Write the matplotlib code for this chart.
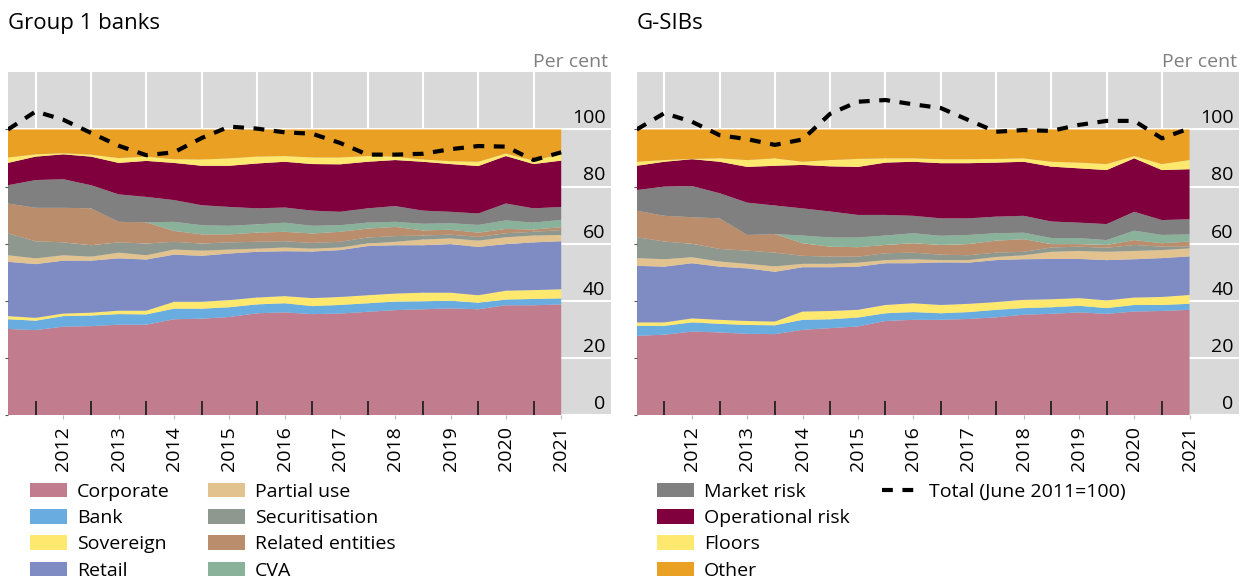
import numpy as np
import matplotlib
matplotlib.use("Agg")
import matplotlib.pyplot as plt
from matplotlib.patches import Patch
from matplotlib.lines import Line2D

plt.rcParams["font.family"] = ["Open Sans", "DejaVu Sans"]

# half-yearly observations, June 2011 ... June 2021
periods = ["Jun 2011", "Dec 2011", "Jun 2012", "Dec 2012", "Jun 2013", "Dec 2013",
           "Jun 2014", "Dec 2014", "Jun 2015", "Dec 2015", "Jun 2016", "Dec 2016",
           "Jun 2017", "Dec 2017", "Jun 2018", "Dec 2018", "Jun 2019", "Dec 2019",
           "Jun 2020", "Dec 2020", "Jun 2021"]
year_labels = ["2012", "2013", "2014", "2015", "2016", "2017", "2018", "2019", "2020", "2021"]

categories = ["Corporate", "Bank", "Sovereign", "Retail", "Partial use", "Securitisation",
              "Related entities", "CVA", "Market risk", "Operational risk", "Floors", "Other"]
colors = ["#C17D8D", "#68ACE0", "#FFE86E", "#7F8CC4", "#E2C28F", "#8F988F",
          "#BA8E6C", "#8AB29B", "#808080", "#7F003C", "#FFE86E", "#E9A023"]

# Group 1 banks, share of RWAs (per cent)
g1_corporate = [30.2, 29.8, 31.0, 31.2, 31.7, 31.7, 33.6, 33.8, 34.4, 35.7, 36.0, 35.4, 35.6, 36.2, 36.8, 37.1, 37.4, 37.1, 38.5, 38.5, 38.8]
g1_bank = [3.4, 3.3, 3.7, 3.7, 3.7, 3.6, 3.7, 3.5, 3.4, 3.1, 3.2, 2.8, 3.0, 3.0, 3.0, 2.8, 2.7, 2.3, 2.0, 2.2, 2.1]
g1_sovereign = [1.1, 1.0, 0.9, 1.0, 1.2, 1.3, 2.4, 2.4, 2.5, 2.4, 2.5, 2.8, 2.8, 2.8, 2.8, 3.0, 2.8, 2.6, 3.1, 3.1, 3.2]
g1_retail = [19.0, 18.8, 18.5, 18.2, 18.3, 17.9, 16.5, 16.1, 16.3, 16.0, 15.7, 16.3, 16.4, 17.2, 16.9, 16.6, 17.0, 16.9, 16.3, 16.7, 16.8]
g1_partial = [2.3, 2.0, 1.9, 1.4, 2.0, 1.5, 1.8, 1.8, 1.4, 1.1, 1.3, 1.0, 0.9, 0.9, 1.2, 2.0, 2.0, 2.2, 2.4, 2.4, 2.2]
g1_securitisation = [7.6, 6.0, 4.5, 4.0, 3.6, 4.1, 2.7, 2.5, 2.5, 2.4, 2.2, 2.0, 2.0, 2.1, 2.0, 1.4, 1.3, 1.3, 1.4, 1.3, 1.7]
g1_related = [10.5, 11.7, 12.1, 12.9, 7.2, 7.4, 3.8, 3.2, 2.8, 3.2, 3.3, 3.3, 3.5, 3.1, 3.2, 1.8, 1.7, 1.5, 1.5, 0.8, 1.0]
g1_cva = [0, 0, 0, 0, 0, 0, 3.2, 3.2, 3.0, 2.9, 3.2, 2.7, 2.3, 2.1, 1.8, 2.3, 2.3, 2.7, 3.0, 2.4, 2.6]
g1_market = [6.4, 9.7, 10.0, 8.1, 9.6, 8.9, 7.6, 7.0, 6.6, 5.6, 5.3, 5.3, 4.7, 5.0, 5.5, 4.6, 4.0, 4.0, 5.9, 5.0, 4.5]
g1_operational = [7.8, 8.2, 8.7, 10.0, 11.0, 12.6, 13.0, 13.8, 14.4, 15.7, 16.0, 16.3, 16.6, 16.3, 16.1, 17.1, 16.7, 16.6, 16.6, 15.5, 16.2]
g1_floors = [1.9, 0.8, 0.4, 0.7, 1.7, 1.5, 1.3, 2.2, 2.6, 2.4, 2.0, 2.3, 2.4, 2.0, 1.2, 0.8, 1.0, 1.5, 0.9, 1.2, 2.3]
g1_other = [9.8, 8.7, 8.3, 8.8, 10.0, 9.5, 10.4, 10.5, 10.1, 9.5, 9.3, 9.8, 9.8, 9.3, 9.5, 10.5, 11.1, 11.3, 8.4, 10.9, 8.6]
g1_total = [100, 106.3, 103.4, 98.8, 94.3, 91.0, 92.0, 97.0, 101.0, 100.3, 99.0, 98.5, 95.3, 91.2, 91.2, 91.5, 93.1, 94.2, 94.0, 89.3, 92.0]

# G-SIBs, share of RWAs (per cent)
gs_corporate = [27.8, 28.2, 29.3, 29.0, 28.5, 28.4, 29.9, 30.5, 31.1, 33.0, 33.4, 33.4, 33.7, 34.3, 35.2, 35.5, 36.0, 35.5, 36.3, 36.5, 36.9]
gs_bank = [3.5, 3.1, 3.2, 3.0, 3.1, 3.1, 3.5, 3.1, 3.1, 2.7, 2.7, 2.3, 2.4, 2.6, 2.3, 2.3, 2.3, 2.0, 2.3, 2.1, 2.1]
gs_sovereign = [1.2, 1.2, 1.4, 1.4, 1.4, 1.3, 2.9, 2.9, 2.7, 2.9, 3.1, 2.9, 2.9, 2.7, 2.9, 2.8, 2.7, 2.7, 2.6, 2.8, 3.1]
gs_retail = [19.8, 19.5, 19.3, 18.6, 18.4, 17.4, 15.5, 15.3, 15.1, 14.6, 14.0, 14.9, 14.4, 14.7, 14.2, 14.1, 13.7, 14.1, 13.4, 13.6, 13.5]
gs_partial = [2.7, 2.6, 2.1, 1.8, 1.6, 1.9, 1.2, 1.2, 1.4, 1.1, 1.4, 0.8, 0.9, 1.1, 1.4, 2.5, 2.8, 2.9, 2.9, 2.8, 2.8]
gs_securitisation = [7.3, 6.2, 4.7, 4.4, 4.6, 4.8, 2.8, 2.5, 2.1, 2.4, 2.3, 1.9, 1.7, 1.5, 1.2, 1.5, 1.5, 1.4, 2.1, 1.2, 0.6]
gs_related = [9.3, 9.0, 9.3, 10.7, 5.5, 6.5, 4.4, 3.5, 3.3, 2.9, 3.3, 3.4, 3.9, 4.2, 4.4, 1.2, 0.9, 1.0, 1.7, 1.2, 1.8]
gs_cva = [0, 0, 0, 0, 0, 0, 2.7, 3.2, 3.4, 3.3, 3.5, 3.2, 3.2, 2.6, 2.3, 2.1, 2.1, 1.7, 3.3, 2.9, 2.5]
gs_market = [7.2, 10.2, 10.9, 8.8, 11.3, 10.0, 9.5, 9.1, 7.9, 7.2, 6.1, 6.1, 5.8, 5.8, 5.9, 5.8, 5.4, 5.6, 6.6, 5.2, 5.3]
gs_operational = [8.5, 8.7, 9.4, 11.0, 12.5, 13.9, 15.2, 15.8, 16.8, 18.3, 18.9, 19.3, 19.3, 18.9, 18.9, 19.2, 19.0, 18.9, 18.7, 17.5, 17.5]
gs_floors = [1.4, 0.6, 0.1, 1.2, 2.4, 2.6, 1.1, 2.2, 2.8, 1.5, 1.2, 1.4, 1.4, 1.3, 1.2, 1.7, 2.0, 2.1, 0.8, 2.1, 3.2]
gs_other = [11.3, 10.7, 10.3, 10.1, 10.7, 10.1, 11.3, 10.7, 10.3, 10.1, 10.1, 10.4, 10.4, 10.3, 10.1, 11.3, 11.6, 12.1, 9.3, 12.1, 10.7]
gs_total = [100, 105.7, 102.7, 98.0, 96.6, 94.6, 96.5, 105.5, 109.7, 110.3, 108.8, 107.5, 103.3, 99.2, 99.8, 99.5, 101.6, 103.0, 103.0, 96.9, 100.4]

g1_shares = [g1_corporate, g1_bank, g1_sovereign, g1_retail, g1_partial, g1_securitisation,
             g1_related, g1_cva, g1_market, g1_operational, g1_floors, g1_other]
gs_shares = [gs_corporate, gs_bank, gs_sovereign, gs_retail, gs_partial, gs_securitisation,
             gs_related, gs_cva, gs_market, gs_operational, gs_floors, gs_other]

W, H = 1249, 581
FS = 14
BG = "#D9D9D9"


def draw_panel(ax, shares, total):
    x = np.arange(len(periods))
    ax.set_facecolor(BG)
    ax.set_xlim(0, 21.8)
    ax.set_ylim(0, 120)

    # white grid beneath the areas
    yt = [0, 20, 40, 60, 80, 100]
    for v in yt:
        ax.axhline(v, color="white", lw=1.5, zorder=0)
    between = np.arange(1, len(periods), 2)
    for p in between:
        ax.axvline(p, color="white", lw=1.5, zorder=0)

    ax.stackplot(x, *shares, colors=colors, lw=0, zorder=1)
    ax.plot(x, total, color="black", lw=3, dashes=(2.6, 2.3), zorder=3)

    # x axis: year labels mid-year, black ticks between years
    ax.set_xticks(np.arange(2, len(periods), 2))
    ax.set_xticklabels(year_labels, rotation=90, fontsize=FS)
    ax.set_xticks(between, minor=True)
    ax.tick_params(axis="x", which="major", length=3, color="#BBBBBB", direction="out", pad=5)
    ax.tick_params(axis="x", which="minor", length=10, width=1.3, color="#222222", direction="in")

    ax.set_yticks(yt)
    ax.tick_params(axis="y", left=True, right=False, labelleft=False, length=2,
                   color="#555555", direction="out")
    for v in yt:
        ax.annotate(str(v), xy=(1, v), xycoords=("axes fraction", "data"),
                    xytext=(-4, 4.5), textcoords="offset points",
                    ha="right", va="baseline", fontsize=FS)
    ax.annotate("Per cent", xy=(1, 1), xycoords="axes fraction", xytext=(-2, 4),
                textcoords="offset points", ha="right", va="baseline",
                fontsize=FS, color="#7F7F7F")
    for s in ax.spines.values():
        s.set_visible(False)


fig = plt.figure(figsize=(W / 100, H / 100), dpi=100)
ax_l = fig.add_axes([8 / W, 1 - 415.3 / H, 603 / W, 343 / H])
ax_r = fig.add_axes([636.7 / W, 1 - 415.3 / H, 602.6 / W, 343 / H])
draw_panel(ax_l, g1_shares, g1_total)
draw_panel(ax_r, gs_shares, gs_total)

fig.text(8 / W, 1 - 29 / H, "Group 1 banks", fontsize=16, va="baseline")
fig.text(637 / W, 1 - 29 / H, "G-SIBs", fontsize=16, va="baseline")

# legend in four columns
patches = [Patch(facecolor=c, edgecolor="none", label=n) for n, c in zip(categories, colors)]
total_handle = Line2D([], [], color="black", lw=3, dashes=(2.6, 2.3), label="Total (June 2011=100)")
groups = [(patches[0:4], 30), (patches[4:8], 208), (patches[8:12], 657), ([total_handle], 882)]
for handles, xpx in groups:
    fig.legend(handles=handles, loc="upper left", bbox_to_anchor=(xpx / W, 1 - 483 / H),
               frameon=False, fontsize=FS, handlelength=1.9, handleheight=0.77,
               handletextpad=0.5, labelspacing=0.42, borderpad=0, borderaxespad=0)

fig.savefig("out.png", dpi=100)
